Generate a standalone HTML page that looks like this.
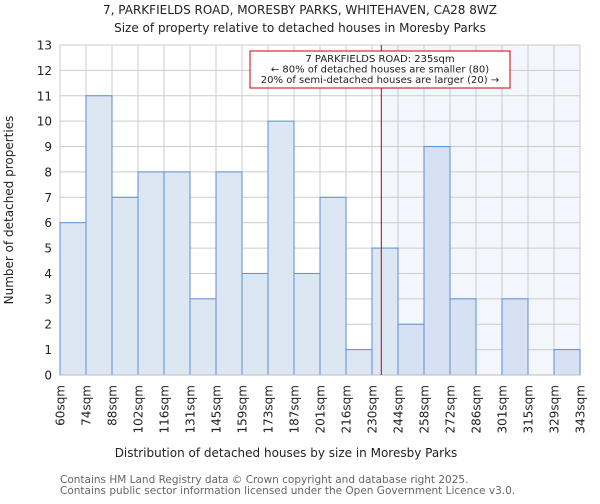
<!DOCTYPE html>
<html><head><meta charset="utf-8"><style>
body{margin:0;background:#fff;font-family:"DejaVu Sans","Liberation Sans",sans-serif}
</style></head><body>
<svg id="chart" width="600" height="500" xmlns="http://www.w3.org/2000/svg" font-family="DejaVu Sans, Liberation Sans, sans-serif">
<text x="300" y="14" text-anchor="middle" font-size="12" fill="#222">7, PARKFIELDS ROAD, MORESBY PARKS, WHITEHAVEN, CA28 8WZ</text>
<text x="300" y="32" text-anchor="middle" font-size="12" fill="#222">Size of property relative to detached houses in Moresby Parks</text>
<g id="plot"></g>
<text x="286" y="457" text-anchor="middle" font-size="12" fill="#222">Distribution of detached houses by size in Moresby Parks</text>
<text transform="translate(13,210) rotate(-90)" text-anchor="middle" font-size="12" fill="#222">Number of detached properties</text>
<text x="60" y="483" font-size="10.5" fill="#666">Contains HM Land Registry data © Crown copyright and database right 2025.</text>
<text x="60" y="494" font-size="10.5" fill="#666">Contains public sector information licensed under the Open Government Licence v3.0.</text>
</svg>
<script>
const binLabels=["60sqm","74sqm","88sqm","102sqm","116sqm","131sqm","145sqm","159sqm","173sqm","187sqm","201sqm","216sqm","230sqm","244sqm","258sqm","272sqm","286sqm","301sqm","315sqm","329sqm","343sqm"];
const binEdges=[60,74,88,102,116,131,145,159,173,187,201,216,230,244,258,272,286,301,315,329,343];
const counts=[6,11,7,8,8,3,8,4,10,4,7,1,5,2,9,3,0,3,0,1];
const yTicks=[0,1,2,3,4,5,6,7,8,9,10,11,12,13];
const subjectSize=235;
const annotation=["7 PARKFIELDS ROAD: 235sqm","← 80% of detached houses are smaller (80)","20% of semi-detached houses are larger (20) →"];
const NS="http://www.w3.org/2000/svg";
const L=60,R=580,T=45,B=375,n=counts.length,bw=(R-L)/n;
const xi=i=>L+i*bw;
function xv(v){for(let i=0;i<binEdges.length-1;i++){if(v<=binEdges[i+1])return xi(i)+(v-binEdges[i])/(binEdges[i+1]-binEdges[i])*bw;}return R;}
const y=v=>B-v*(B-T)/13;
const g=document.getElementById('plot');
function mk(t,a){const e=document.createElementNS(NS,t);for(const k in a)e.setAttribute(k,a[k]);g.appendChild(e);return e;}
const sx=xv(subjectSize);
let e=mk('rect',{x:sx,y:T,width:R-sx,height:B-T,fill:'#f3f6fd'});


yTicks.forEach(t=>{
 let l=mk('line',{x1:L,x2:R,y1:y(t),y2:y(t),stroke:'#ccc','stroke-width':1});
 
 
 let tx=mk('text',{x:L-8,y:y(t)+4.5,'text-anchor':'end','font-size':12,fill:'#222'});tx.textContent=t;
 
 
});
binLabels.forEach((lb,i)=>{
 let l=mk('line',{x1:xi(i),x2:xi(i),y1:T,y2:B,stroke:'#ccc','stroke-width':1});
 
 
 let tx=mk('text',{transform:`translate(${xi(i)+4.5},385) rotate(-90)`,'text-anchor':'end','font-size':12,fill:'#222'});tx.textContent=lb;
 
 
});
counts.forEach((c,i)=>{
 if(c<=0)return;
 let r=mk('rect',{x:xi(i),y:y(c),width:bw,height:B-y(c),fill:xi(i)>=sx?'#d6e1f3':'#dde7f4',stroke:'#5b8fd4','stroke-width':1});
 
 
});
e=mk('line',{x1:L,x2:R,y1:B,y2:B,stroke:'#bbb','stroke-width':1});


e=mk('line',{x1:sx,x2:sx,y1:T,y2:B,stroke:'#b00','stroke-width':1});


e=mk('rect',{x:250,y:51,width:260,height:37,fill:'#fff',stroke:'#c00','stroke-width':1});


annotation.forEach((a,i)=>{
 let tx=mk('text',{x:380,y:62+i*10.5,'text-anchor':'middle','font-size':10,fill:'#222'});tx.textContent=a;
 
 
});
</script>
</body></html>
